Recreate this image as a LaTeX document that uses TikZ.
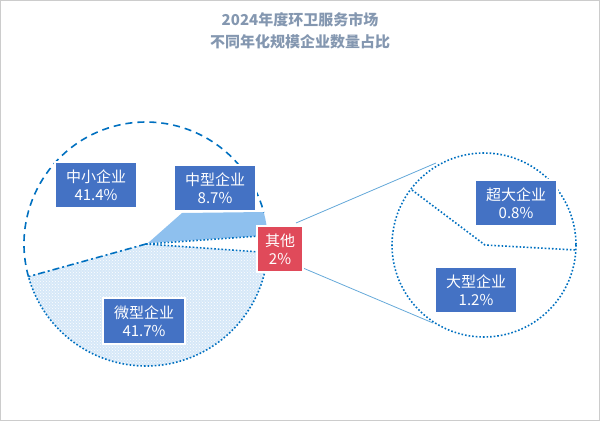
\documentclass[tikz,border=0pt]{standalone}
\usepackage{fontspec}
\newfontfamily\cjk{Noto Sans CJK SC}
\usetikzlibrary{patterns}
\definecolor{lbl}{HTML}{4472C4}
\definecolor{ln}{HTML}{0070C0}
\definecolor{ttl}{HTML}{8497B0}
\definecolor{red1}{HTML}{E04A5A}
\definecolor{mid}{HTML}{8EC0EE}
\definecolor{lt}{HTML}{D6E8F8}
\begin{document}
\begin{tikzpicture}[x=1pt,y=-1pt,
  lab/.style={fill=lbl,draw=white,line width=1.2pt,text=white,font=\cjk\fontsize{15}{18}\selectfont,align=center,inner sep=2pt,minimum width=82pt,minimum height=46pt},
  dots/.style={draw=ln,line width=1.6pt,dash pattern=on 1.6pt off 2pt}]
\useasboundingbox (0,0) rectangle (600,421);
\draw[draw=gray!40,line width=1pt] (0.5,0.5) rectangle (599.5,420.5);
\node[font=\cjk\bfseries\fontsize{15}{22}\selectfont,text=ttl,align=center] (title) at (300,31) {2024年度环卫服务市场\\不同年化规模企业数量占比};
\coordinate (C) at (146,244);
\coordinate (Z) at (484,245);
\coordinate (za) at (436,163);
\coordinate (zb) at (433,323);
% main pie
\fill[lt] (C) -- ++(4:122) arc[start angle=4,end angle=164.5,radius=122] -- cycle;
\fill[pattern=crosshatch dots,pattern color=white] (C) -- ++(4:122) arc[start angle=4,end angle=164.5,radius=122] -- cycle;
\fill[mid] (148,243) -- (182,213) -- (263.7,212) arc[start angle=-15.2,end angle=-4,radius=122] -- cycle;
\draw[ln,line width=1.6pt,dash pattern=on 7pt off 5pt] (C) ++(-195.5:122) arc[start angle=-195.5,end angle=-15,radius=122];
\draw[ln,line width=1.6pt,dash pattern=on 7pt off 3pt on 2pt off 3pt] (C) -- ++(-195.5:122);
\draw[dots] (C) ++(4:122) arc[start angle=4,end angle=164.5,radius=122];
\draw[dots] (C) -- ++(-4:112);
\draw[dots] (C) -- ++(4:112);
% zoom circle
\draw[ln!60,line width=0.8pt] (296,223) -- (za);
\draw[ln!60,line width=0.8pt] (303,268) -- (zb);
\draw[dots] (Z) circle[radius=92];
\draw[dots] (412,190) -- (485,245) -- (576,250);
% labels
\node[lab] (n1) at (96,185) {中小企业\\41.4\%};
\node[lab] (n2) at (215,188) {中型企业\\8.7\%};
\node[lab,fill=red1,minimum width=46pt] (n3) at (280,249) {其他\\2\%};
\node[lab] (n4) at (144,321) {微型企业\\41.7\%};
\node[lab] (n5) at (516,203) {超大企业\\0.8\%};
\node[lab] (n6) at (476,290) {大型企业\\1.2\%};
\end{tikzpicture}
\end{document}
